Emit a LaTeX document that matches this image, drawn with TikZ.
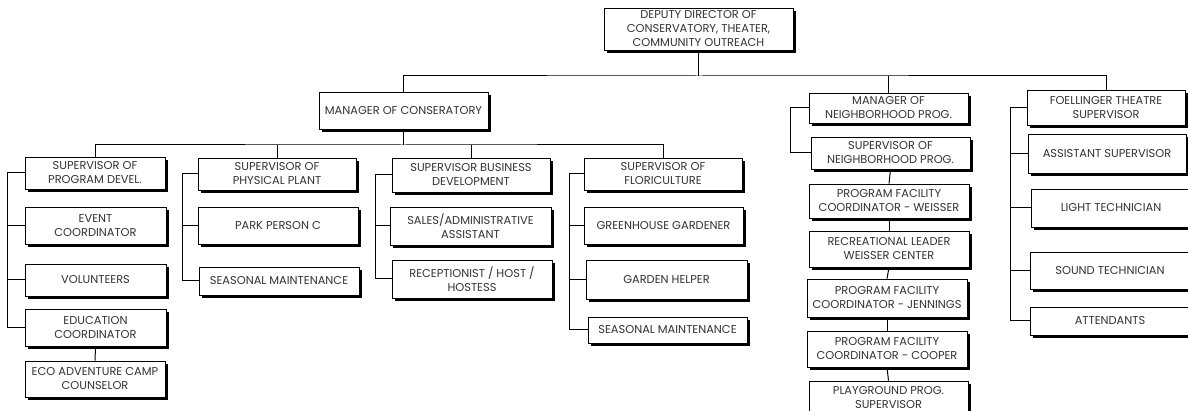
\documentclass[tikz,border=0pt]{standalone}
\usepackage{fontspec}
\setmainfont{Poppins}
\usetikzlibrary{shadows}
\tikzset{
	post/.style={draw, fill=white, line width=0.8pt, align=center, inner sep=1pt,
		font=\fontsize{11.4}{14}\selectfont, text=black!80,
		drop shadow={shadow xshift=3pt, shadow yshift=-3pt, fill=black, opacity=1}},
	link/.style={line width=1pt}
}

\begin{document}
\begin{tikzpicture}[x=1pt, y=-1pt]
	%%%%% START %%%%%
	
	\useasboundingbox (0, 0) rectangle (1188, 411);
	\clip (0, 0) rectangle (1188, 411);
	\fill[white] (0, 0) rectangle (1188, 411);
	
	\node[post, minimum width=189pt, minimum height=42pt] (dd) at (698.5, 29) {DEPUTY DIRECTOR OF\\CONSERVATORY, THEATER,\\COMMUNITY OUTREACH};
	\node[post, minimum width=169pt, minimum height=37pt] (mc) at (403.5, 110.5) {MANAGER OF CONSERATORY};
	
	% program development
	\node[post, minimum width=140pt, minimum height=32pt] (spd) at (95, 173) {SUPERVISOR OF\\PROGRAM DEVEL.};
	\node[post, minimum width=141pt, minimum height=37pt] (ec) at (95.5, 225.5) {EVENT\\COORDINATOR};
	\node[post, minimum width=141pt, minimum height=32pt] (vol) at (95.5, 280) {VOLUNTEERS};
	\node[post, minimum width=141pt, minimum height=37pt] (edc) at (95.5, 327.5) {EDUCATION\\COORDINATOR};
	\node[post, minimum width=140pt, minimum height=36pt] (eco) at (95, 379) {ECO ADVENTURE CAMP\\COUNSELOR};
	
	% physical plant
	\node[post, minimum width=158pt, minimum height=32pt] (spp) at (277, 174) {SUPERVISOR OF\\PHYSICAL PLANT};
	\node[post, minimum width=160pt, minimum height=37pt] (ppc) at (278, 225.5) {PARK PERSON C};
	\node[post, minimum width=160pt, minimum height=28pt] (sm1) at (279, 281) {SEASONAL MAINTENANCE};
	
	% business development
	\node[post, minimum width=158pt, minimum height=34pt] (sbd) at (471, 175) {SUPERVISOR BUSINESS\\DEVELOPMENT};
	\node[post, minimum width=161pt, minimum height=38pt] (saa) at (470.5, 226) {SALES/ADMINISTRATIVE\\ASSISTANT};
	\node[post, minimum width=160pt, minimum height=38pt] (rhh) at (472, 279) {RECEPTIONIST / HOST /\\HOSTESS};
	
	% floriculture
	\node[post, minimum width=158pt, minimum height=32pt] (sf) at (663, 174) {SUPERVISOR OF\\FLORICULTURE};
	\node[post, minimum width=159pt, minimum height=37pt] (gg) at (663.5, 225.5) {GREENHOUSE GARDENER};
	\node[post, minimum width=161pt, minimum height=39pt] (gh) at (666.5, 279.5) {GARDEN HELPER};
	\node[post, minimum width=159pt, minimum height=26pt] (sm2) at (667.5, 330) {SEASONAL MAINTENANCE};
	
	% neighborhood
	\node[post, minimum width=159pt, minimum height=30pt] (mnp) at (888.5, 108) {MANAGER OF\\NEIGHBORHOOD PROG.};
	\node[post, minimum width=159pt, minimum height=32pt] (snp) at (890.5, 153) {SUPERVISOR OF\\NEIGHBORHOOD PROG.};
	\node[post, minimum width=160pt, minimum height=34pt] (pfw) at (889, 201) {PROGRAM FACILITY\\COORDINATOR - WEISSER};
	\node[post, minimum width=160pt, minimum height=36pt] (rlw) at (889, 249) {RECREATIONAL LEADER\\WEISSER CENTER};
	\node[post, minimum width=160pt, minimum height=38pt] (pfj) at (887, 298) {PROGRAM FACILITY\\COORDINATOR - JENNINGS};
	\node[post, minimum width=160pt, minimum height=36pt] (pfc) at (887, 349) {PROGRAM FACILITY\\COORDINATOR - COOPER};
	\node[post, minimum width=159pt, minimum height=33pt] (pps) at (888.5, 397.5) {PLAYGROUND PROG.\\SUPERVISOR};
	
	% theatre
	\node[post, minimum width=158pt, minimum height=35pt] (fts) at (1106, 107.5) {FOELLINGER THEATRE\\SUPERVISOR};
	\node[post, minimum width=158pt, minimum height=39pt] (asu) at (1107, 153.5) {ASSISTANT SUPERVISOR};
	\node[post, minimum width=160pt, minimum height=38pt] (lt) at (1111, 208) {LIGHT TECHNICIAN};
	\node[post, minimum width=160pt, minimum height=37pt] (st) at (1110, 270.5) {SOUND TECHNICIAN};
	\node[post, minimum width=160pt, minimum height=28pt] (att) at (1110, 321) {ATTENDANTS};
	
	% connectors
	\coordinate (top) at (698.5, 76);
	\coordinate (mid) at (403.5, 145);
	\coordinate (s1) at (7, 0);
	\coordinate (s2) at (182, 0);
	\coordinate (s3) at (375, 0);
	\coordinate (s4) at (569, 0);
	\coordinate (s5) at (790, 0);
	\coordinate (s6) at (1010, 0);
	
	\draw[link] (dd.south) -- (top);
	\draw[link] (mc.north) |- (top) -| (fts.north);
	\draw[link] (mnp.north) -- (mnp.north |- top);
	
	\draw[link] (mc.south) -- (mid);
	\draw[link] (spd.north) |- (mid) -| (sf.north);
	\draw[link] (spp.north) -- (spp.north |- mid);
	\draw[link] (sbd.north) -- (sbd.north |- mid);
	
	\draw[link] (spd.west) -| (s1 |- edc.west) -- (edc.west);
	\draw[link] (ec.west) -- (ec.west -| s1);
	\draw[link] (vol.west) -- (vol.west -| s1);
	\draw[link] (edc.south) -- (eco.north);
	
	\draw[link] (spp.west) -| (s2 |- sm1.west) -- (sm1.west);
	\draw[link] (ppc.west) -- (ppc.west -| s2);
	
	\draw[link] (sbd.west) -| (s3 |- rhh.west) -- (rhh.west);
	\draw[link] (saa.west) -- (saa.west -| s3);
	
	\draw[link] (sf.west) -| (s4 |- sm2.west) -- (sm2.west);
	\draw[link] (gg.west) -- (gg.west -| s4);
	\draw[link] (gh.west) -- (gh.west -| s4);
	
	\draw[link] (mnp.west) -| (s5 |- snp.west) -- (snp.west);
	\draw[link] (snp.south) -- (pfw.north);
	\draw[link] (pfw.south) -- (rlw.north);
	\draw[link] (rlw.south) -- (pfj.north);
	\draw[link] (pfj.south) -- (pfc.north);
	\draw[link] (pfc.south) -- (pps.north);
	
	\draw[link] (fts.west) -| (s6 |- att.west) -- (att.west);
	\draw[link] (asu.west) -- (asu.west -| s6);
	\draw[link] (lt.west) -- (lt.west -| s6);
	\draw[link] (st.west) -- (st.west -| s6);
	
	%%%%% END %%%%%
\end{tikzpicture}
\end{document}
